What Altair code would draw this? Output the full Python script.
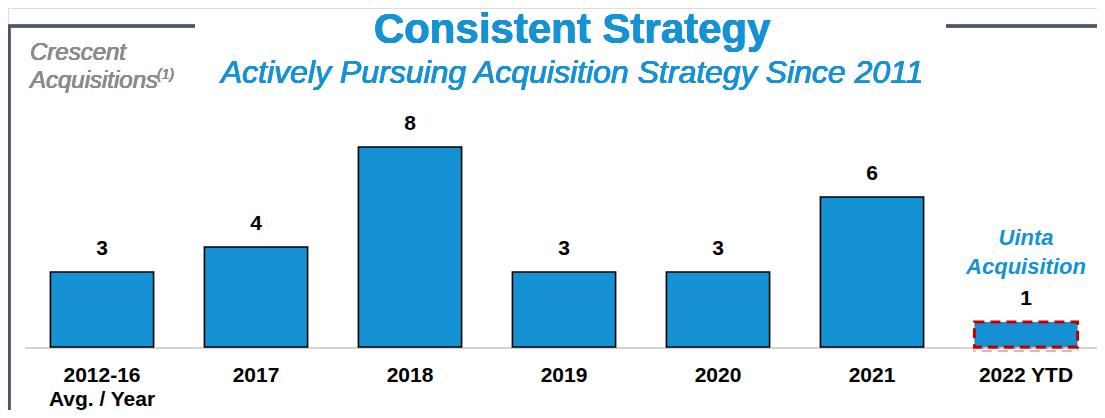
import altair as alt
import pandas as pd

categories = ["2012-16\nAvg. / Year", "2017", "2018", "2019", "2020", "2021", "2022 YTD"]
acquisitions = [3, 4, 8, 3, 3, 6, 1]
highlight_category = "2022 YTD"
annotation_text = "Uinta\nAcquisition"

BLUE = "#1592D4"
RED = "#C00000"
FONT = "Liberation Sans"

df = pd.DataFrame({"cat": categories, "val": acquisitions})
df_hi = df[df["cat"] == highlight_category]
df_ann = pd.DataFrame({"cat": [highlight_category], "txt": [annotation_text]})

xs = alt.Scale(domain=categories, range=[17, 1095], paddingInner=0.33, paddingOuter=0.165)
ys = alt.Scale(domain=[0, 13.56], range=[339, 0])
X = alt.X("cat:N", scale=xs, axis=None, sort=categories)
Y = alt.Y("val:Q", scale=ys, axis=None)

base = alt.Chart(df)

bars = base.transform_filter(alt.datum.cat != highlight_category).mark_bar(
    fill=BLUE, stroke="#000000", strokeWidth=1.6
).encode(x=X, y=Y)

hi_bar = alt.Chart(df_hi).mark_bar(
    fill=BLUE, stroke=RED, strokeWidth=3, strokeDash=[10, 6]
).encode(x=X, y=Y)

reflection = alt.Chart(df_hi).mark_bar(
    fill="transparent", stroke=RED, strokeWidth=2, strokeDash=[10, 6], strokeOpacity=0.3
).encode(x=X, y=alt.value(340), y2=alt.value(343))

baseline = base.mark_rule(color="#D3D3D3", strokeWidth=2).encode(
    x=alt.value(17), x2=alt.value(1089), y=alt.value(340)
)

val_labels = base.mark_text(
    font=FONT, fontSize=21, fontWeight="bold", color="#000000", dy=-17, baseline="alphabetic"
).encode(x=X, y=Y, text="val:Q")

x_labels = base.mark_text(
    font=FONT, fontSize=21, fontWeight="bold", color="#000000", baseline="alphabetic",
    lineBreak="\n", lineHeight=24
).encode(x=X, y=alt.value(374), text="cat:N")

ann = alt.Chart(df_ann).mark_text(
    font=FONT, fontSize=22, fontWeight="bold", fontStyle="italic", color=BLUE,
    baseline="alphabetic", lineBreak="\n", lineHeight=29
).encode(x=X, y=alt.value(237), text="txt:N")

title = base.mark_text(
    font=FONT, fontSize=42, fontWeight="bold", color=BLUE, align="center", baseline="alphabetic",
    text="Consistent Strategy"
).encode(x=alt.value(564), y=alt.value(35))

subtitle = base.mark_text(
    font=FONT, fontSize=32, fontStyle="italic", color=BLUE, align="center", baseline="alphabetic",
    text="Actively Pursuing Acquisition Strategy Since 2011"
).encode(x=alt.value(564), y=alt.value(75))

crescent = base.mark_text(
    font=FONT, fontSize=24, fontStyle="italic", color="#8C8C8C", align="left", baseline="alphabetic",
    lineBreak="\n", lineHeight=28, text="Crescent\nAcquisitions"
).encode(x=alt.value(22), y=alt.value(52))

sup = base.mark_text(
    font=FONT, fontSize=14, fontStyle="italic", color="#8C8C8C", align="left", baseline="alphabetic",
    text="(1)"
).encode(x=alt.value(149), y=alt.value(71))

FRAME = "#4B5669"
frame_left = base.mark_rule(color=FRAME, strokeWidth=2.5).encode(
    x=alt.value(1), y=alt.value(17), y2=alt.value(402)
)
frame_top_l = base.mark_rule(color=FRAME, strokeWidth=2.5).encode(
    x=alt.value(0), x2=alt.value(187), y=alt.value(18)
)
frame_top_r = base.mark_rule(color=FRAME, strokeWidth=2.5).encode(
    x=alt.value(938), x2=alt.value(1089), y=alt.value(18)
)

chart = alt.layer(
    frame_left, frame_top_l, frame_top_r, baseline, reflection, bars, hi_bar,
    val_labels, x_labels, ann, title, subtitle, crescent, sup
).properties(
    width=1089, height=402, padding=0, autosize=alt.AutoSizeParams(type="none")
).configure_view(stroke=None).configure(background="white")

chart.save("out.html", embed_options={"renderer": "svg", "actions": False})
